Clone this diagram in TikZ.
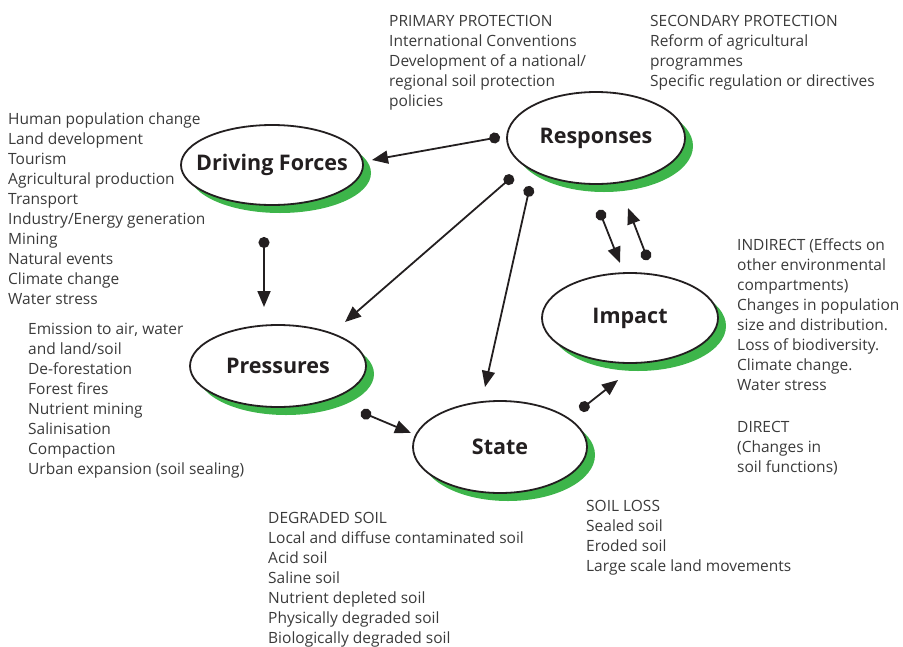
\documentclass[tikz,border=0pt]{standalone}
\usepackage{fontspec}
\setmainfont{Open Sans}
\usetikzlibrary{arrows.meta,calc,shapes.geometric}
\definecolor{shgreen}{HTML}{3DB54A}
\definecolor{txt}{HTML}{3A3A3A}
\definecolor{ink}{HTML}{231F20}
\begin{document}
\begin{tikzpicture}[x=1pt,y=-1pt,
 ell/.style={ellipse, draw=ink, line width=1.8pt, fill=white, inner xsep=-30pt, inner ysep=-10pt, text=ink, font=\bfseries\fontsize{21.5}{26}\selectfont},
 conn/.style={draw=ink, line width=1.8pt, {Circle[length=11pt]}-{Triangle[length=16pt,width=13pt]}},
 lst/.style={anchor=north west, align=left, inner sep=0pt, text=txt, font=\fontsize{15.5}{20}\selectfont}
]
\useasboundingbox (0,0) rectangle (903,646);
% shadows
\fill[shgreen] (280,173) ellipse [x radius=91, y radius=40];
\fill[shgreen] (604,146) ellipse [x radius=89, y radius=46];
\fill[shgreen] (286,374) ellipse [x radius=88, y radius=41];
\fill[shgreen] (508,455) ellipse [x radius=87, y radius=46];
\fill[shgreen] (638,326) ellipse [x radius=88, y radius=45];
% ellipses
\node[ell, minimum width=182pt, minimum height=80pt] (drv) at (272,165) {Driving Forces};
\node[ell, minimum width=178pt, minimum height=92pt] (resp) at (596,138) {Responses};
\node[ell, minimum width=176pt, minimum height=82pt] (press) at (278,366) {Pressures};
\node[ell, minimum width=174pt, minimum height=92pt] (state) at (500,447) {State};
\node[ell, minimum width=176pt, minimum height=90pt] (imp) at (630,318) {Impact};
% connectors
\draw[conn] ($(resp)+(-96,-1)$) -- ($(drv)+(100,-5)$);
\draw[conn] ($(drv)+(-8,72)$) -- ($(press)+(-14,-59)$);
\draw[conn] ($(resp)+(-83,38)$) -- ($(press)+(67,-44)$);
\draw[conn] ($(resp)+(-66,48)$) -- ($(state)+(-15,-60)$);
\draw[conn] ($(press)+(83,46)$) -- ($(state)+(-89,-14)$);
\draw[conn] ($(state)+(80,-37)$) -- ($(imp)+(-12,62)$);
\draw[conn] ($(resp)+(3,72)$) -- ($(imp)+(-10,-55)$);
\draw[conn] ($(imp)+(18,-58)$) -- ($(resp)+(32,70)$);
% texts
\node[lst] (tprim) at (389,15) {PRIMARY PROTECTION\\International Conventions\\Development of a national/\\regional soil protection\\policies};
\node[lst] (tsec) at (650,15) {SECONDARY PROTECTION\\Reform of agricultural\\programmes\\Specific regulation or directives};
\node[lst] (tdrv) at (8,113) {Human population change\\Land development\\Tourism\\Agricultural production\\Transport\\Industry/Energy generation\\Mining\\Natural events\\Climate change\\Water stress};
\node[lst] (tpress) at (28,323) {Emission to air, water\\and land/soil\\De-forestation\\Forest fires\\Nutrient mining\\Salinisation\\Compaction\\Urban expansion (soil sealing)};
\node[lst] (timp) at (737,238) {INDIRECT (Effects on\\other environmental\\compartments)\\Changes in population\\size and distribution.\\Loss of biodiversity.\\Climate change.\\Water stress};
\node[lst] (tdir) at (737,421) {DIRECT\\(Changes in\\soil functions)};
\node[lst] (tdeg) at (268,512) {DEGRADED SOIL\\Local and diffuse contaminated soil\\Acid soil\\Saline soil\\Nutrient depleted soil\\Physically degraded soil\\Biologically degraded soil};
\node[lst] (tloss) at (586,500) {SOIL LOSS\\Sealed soil\\Eroded soil\\Large scale land movements};
\end{tikzpicture}
\end{document}
